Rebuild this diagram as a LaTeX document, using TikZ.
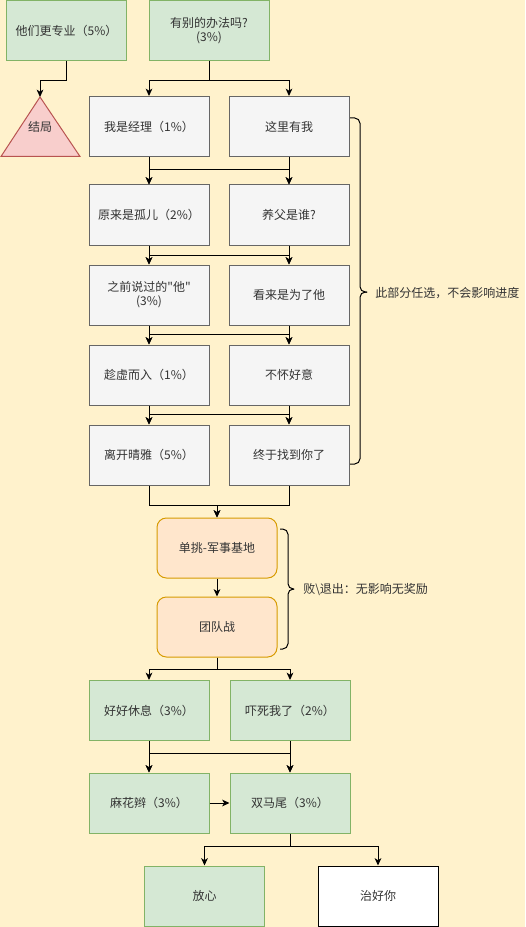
\documentclass[tikz,border=0pt]{standalone}
\usepackage{fontspec}
\newfontfamily\cjk{Noto Sans CJK SC}
\usetikzlibrary{arrows.meta}
\definecolor{bg}{HTML}{FFF2CC}
\definecolor{gfill}{HTML}{D5E8D4}
\definecolor{gline}{HTML}{82B366}
\definecolor{grfill}{HTML}{F5F5F5}
\definecolor{grline}{HTML}{666666}
\definecolor{ofill}{HTML}{FFE6CC}
\definecolor{oline}{HTML}{D79B00}
\definecolor{rfill}{HTML}{F8CECC}
\definecolor{rline}{HTML}{B85450}
\definecolor{txt}{HTML}{333333}
\begin{document}
\begin{tikzpicture}[x=0.75pt,y=-0.75pt,
  every node/.style={font=\cjk\fontsize{9}{10.5}\selectfont, text=txt},
  box/.style={draw, line width=0.75pt, minimum width=90pt, minimum height=45pt, inner sep=0pt, align=center},
  gbox/.style={box, fill=gfill, draw=gline},
  graybox/.style={box, fill=grfill, draw=grline},
  obox/.style={box, fill=ofill, draw=oline, rounded corners=7pt},
  wbox/.style={box, fill=white, draw=black},
  arr/.style={draw=black, line width=0.75pt, -{Stealth[length=5.5pt,width=5pt,inset=1.5pt]}},
  ln/.style={draw=black, line width=0.75pt},
  brace/.style={draw=black, line width=0.75pt, rounded corners=4pt},
  note/.style={anchor=west, inner sep=0pt},
]
\fill[bg] (0,0) rectangle (525,927);
\useasboundingbox (0,0) rectangle (525,927);

% top
\node[gbox] (p) at (66.5,30.5) {他们更专业（5\%）};
\node[gbox] (q) at (209,30.5) {有别的办法吗?\\(3\%)};
\draw[fill=rfill, draw=rline, line width=0.75pt] (40,97) coordinate (apex) -- (80,156.5) -- (1,156.5) -- cycle;
\node (tri) at (40,127) {结局};

% optional part
\node[graybox] (a1) at (149,126.5) {我是经理（1\%）};
\node[graybox] (a2) at (289,126.5) {这里有我};
\node[graybox] (b1) at (149,215) {原来是孤儿（2\%）};
\node[graybox] (b2) at (289,215) {养父是谁?};
\node[graybox] (c1) at (149,295) {之前说过的"他"\\(3\%)};
\node[graybox] (c2) at (289,295) {看来是为了他};
\node[graybox] (d1) at (149,375) {趁虚而入（1\%）};
\node[graybox] (d2) at (289,375) {不怀好意};
\node[graybox] (e1) at (149,455) {离开晴雅（5\%）};
\node[graybox] (e2) at (289,455) {终于找到你了};

% battles
\node[obox] (o1) at (217,548) {单挑-军事基地};
\node[obox] (o2) at (217,627) {团队战};

% endings
\node[gbox] (f1) at (149,710.5) {好好休息（3\%）};
\node[gbox] (f2) at (290,710.5) {吓死我了（2\%）};
\node[gbox] (g1) at (149,803) {麻花辫（3\%）};
\node[gbox] (g2) at (290,803) {双马尾（3\%）};
\node[gbox] (h1) at (204.5,896) {放心};
\node[wbox] (h2) at (378,896) {治好你};

% edges
\draw[arr] (p.south) -- ++(0,19.5) -| (apex);
\draw[arr] (q.south) -- ++(0,19.5) -| (a1.north);
\draw[arr] (q.south) -- ++(0,19.5) -| (a2.north);

\draw[arr] (a1.south) -- (b1.north);
\draw[arr] (a1.south) -- ++(0,13) -| (b2.north);
\draw[arr] (a2.south) -- (b2.north);
\draw[arr] (a2.south) -- ++(0,13) -| (b1.north);

\draw[arr] (b1.south) -- (c1.north);
\draw[arr] (b1.south) -- ++(0,9.5) -| (c2.north);
\draw[arr] (b2.south) -- (c2.north);
\draw[arr] (b2.south) -- ++(0,9.5) -| (c1.north);

\draw[arr] (c1.south) -- (d1.north);
\draw[arr] (c1.south) -- ++(0,8.5) -| (d2.north);
\draw[arr] (c2.south) -- (d2.north);
\draw[arr] (c2.south) -- ++(0,8.5) -| (d1.north);

\draw[arr] (d1.south) -- (e1.north);
\draw[arr] (d1.south) -- ++(0,8.5) -| (e2.north);
\draw[arr] (d2.south) -- (e2.north);
\draw[arr] (d2.south) -- ++(0,8.5) -| (e1.north);

\draw[arr] (e1.south) -- ++(0,20) -| (o1.north);
\draw[arr] (e2.south) -- ++(0,20) -| (o1.north);

\draw[arr] (o1.south) -- (o2.north);
\draw[arr] (o2.south) -- ++(0,12) -| (f1.north);
\draw[arr] (o2.south) -- ++(0,12) -| (f2.north);

\draw[arr] (f1.south) -- (g1.north);
\draw[arr] (f1.south) -- ++(0,12.5) -| (g2.north);
\draw[arr] (f2.south) -- (g2.north);
\draw[arr] (f2.south) -- ++(0,12.5) -| (g1.north);

\draw[arr] (g1.east) -- (g2.west);
\draw[arr] (g2.south) -- ++(0,13) -| (h1.north);
\draw[arr] (g2.south) -- ++(0,13) -| (h2.north);

% braces and notes
\coordinate (br1) at (367,292);
\draw[brace] (350,118) -| (360,292) -- (br1);
\draw[brace] (350,464) -| (360,292) -- (br1);
\node[note] (n1) at (375,293) {此部分任选，不会影响进度};

\coordinate (br2) at (294,589);
\draw[brace] (280,529) -| (288,589) -- (br2);
\draw[brace] (280,649) -| (288,589) -- (br2);
\node[note] (n2) at (303,590) {败\textbackslash 退出：无影响无奖励};
\end{tikzpicture}
\end{document}
